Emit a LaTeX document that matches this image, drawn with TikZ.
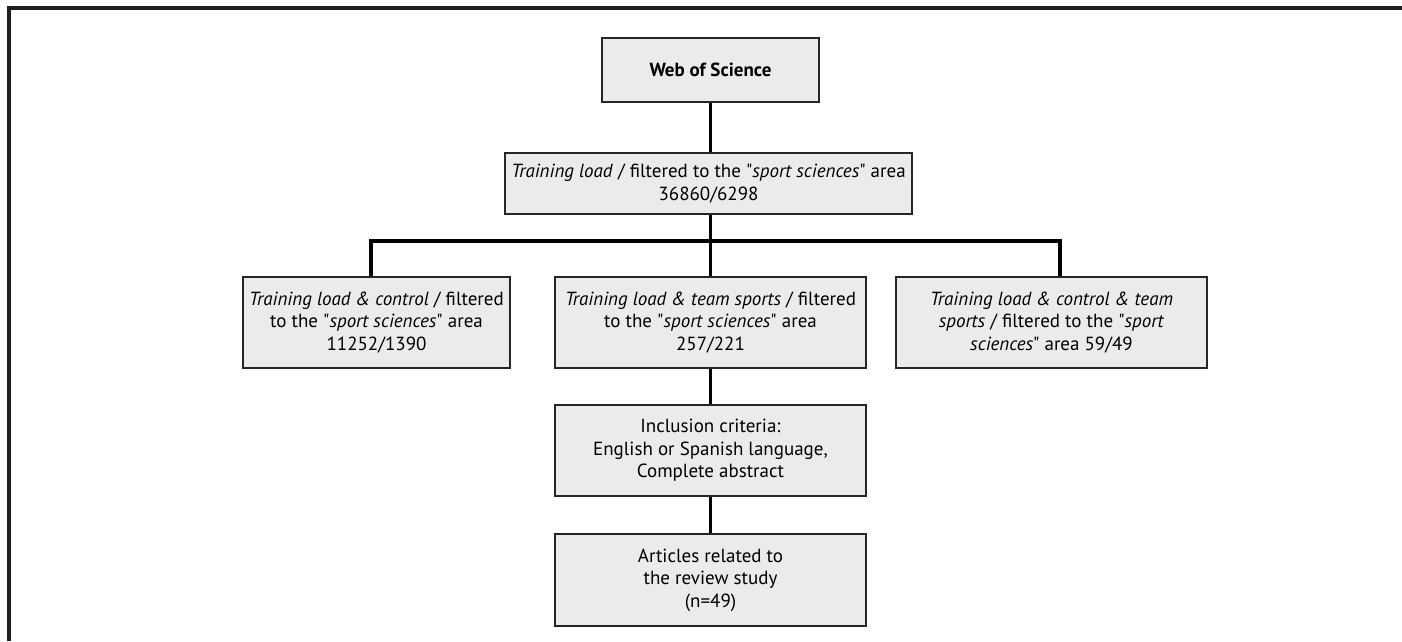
\documentclass[tikz,border=0pt]{standalone}
\usepackage{fontspec}
\setmainfont{PT Sans}
\newcommand{\qq}{\textquotedbl}
\begin{document}
\begin{tikzpicture}[x=1pt,y=-1pt,
  box/.style={draw=black!85,line width=1.6pt,fill=black!8,align=center,inner sep=0pt,
    font=\fontsize{19}{22.5}\selectfont},
  conn/.style={line width=3.2pt,black},
  frame/.style={line width=3.2pt,black!88}]
\useasboundingbox (0,0) rectangle (1402,641);
\draw[frame] (9,641) -- (9,8) -- (1402,8);
\node[box,minimum width=217,minimum height=64] (web) at (710.5,70) {\textbf{Web of Science}};
\node[box,minimum width=407,minimum height=61] (tl) at (708.5,183.5) {\textit{Training load} / filtered to the \qq\textit{sport sciences}\qq{} area\\36860/6298};
\node[box,minimum width=267,minimum height=91] (l) at (376.5,322.5) {\textit{Training load \& control} / filtered\\to the \qq\textit{sport sciences}\qq{} area\\11252/1390};
\node[box,minimum width=311,minimum height=91] (m) at (710.5,322.5) {\textit{Training load \& team sports} / filtered\\to the \qq\textit{sport sciences}\qq{} area\\257/221};
\node[box,minimum width=311,minimum height=91] (r) at (1051.5,322.5) {\textit{Training load \& control \& team}\\\textit{sports} / filtered to the \qq\textit{sport}\\\textit{sciences}\qq{} area 59/49};
\node[box,minimum width=311,minimum height=91] (inc) at (710.5,450.5) {Inclusion criteria:\\English or Spanish language,\\Complete abstract};
\node[box,minimum width=311,minimum height=92] (art) at (710.5,580) {Articles related to\\the review study\\(n=49)};
\coordinate (bl) at (371,241);
\coordinate (br) at (1060,241);
\draw[conn] (web.south) -- (tl.north -| web.south);
\draw[conn] (tl.south -| m.north) -- (m.north);
\draw[conn] (l.north -| bl) -- (bl) -- (br) -- (r.north -| br);
\draw[conn] (m.south) -- (inc.north);
\draw[conn] (inc.south) -- (art.north);
\end{tikzpicture}
\end{document}
